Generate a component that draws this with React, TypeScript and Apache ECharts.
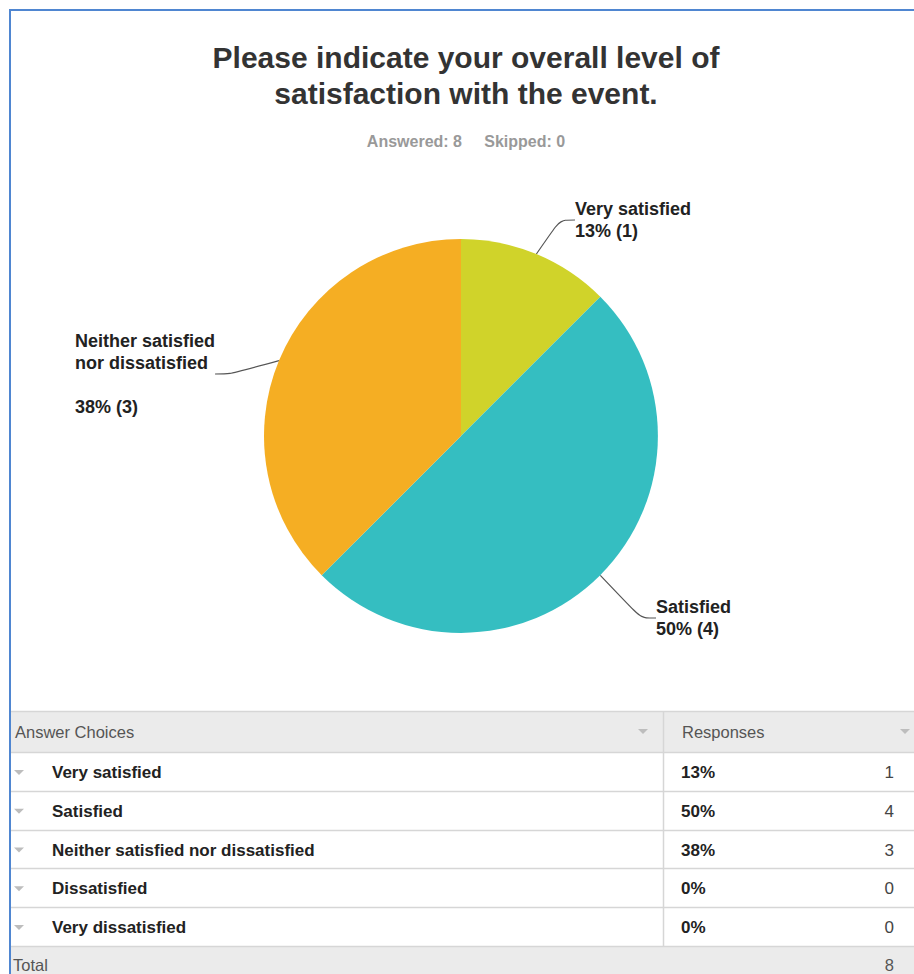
import React, { useEffect, useRef } from "react";
import * as echarts from "echarts";

// ---- data ----
const categories = [
  "Very satisfied",
  "Satisfied",
  "Neither satisfied nor dissatisfied",
  "Dissatisfied",
  "Very dissatisfied",
];
const responses = [1, 4, 3, 0, 0];
const skipped = 0;
const sliceColors = ["#D0D32A", "#35BEC1", "#F5AE23", "#9B9B9B", "#6D6D6D"];
const chartLabelNames = [
  "Very satisfied",
  "Satisfied",
  "Neither satisfied\nnor dissatisfied\n",
  "Dissatisfied",
  "Very dissatisfied",
];
const titleText = "Please indicate your overall level of\nsatisfaction with the event.";
const headerLabels = ["Answer Choices", "Responses"];

// ---- layout (not data) ----
const labelPos: Record<number, [number, number]> = {
  0: [575, 198],
  1: [656, 596],
  2: [75, 330],
};
const FONT = "'Liberation Sans', Arial, Helvetica, sans-serif";

export default function App() {
  const ref = useRef<HTMLDivElement>(null);

  useEffect(() => {
    if (!ref.current) return;
    const chart = echarts.init(ref.current, null, { renderer: "svg" });
    const total = responses.reduce((a, b) => a + b, 0);
    const pct = (v: number) => Math.round((v / total) * 100) + "%";

    // Table graphics
    const tableLeft = 11;
    const tableRight = 914;
    const headerTop = 711;
    const headerBottom = 752;
    const rowH = 38.8;
    const colX = 663.5;
    const lineColor = "#D6D6D6";
    const g: any[] = [];

    g.push({
      type: "rect",
      shape: { x: tableLeft, y: headerTop, width: tableRight - tableLeft, height: headerBottom - headerTop },
      style: { fill: "#EBEBEB" },
      silent: true,
    });
    const totalTop = headerBottom + rowH * categories.length;
    g.push({
      type: "rect",
      shape: { x: tableLeft, y: totalTop, width: tableRight - tableLeft, height: 974 - totalTop },
      style: { fill: "#EBEBEB" },
      silent: true,
    });
    const hLines = [headerTop, headerBottom];
    for (let i = 1; i <= categories.length; i++) hLines.push(headerBottom + rowH * i);
    hLines.forEach((y) =>
      g.push({
        type: "line",
        shape: { x1: tableLeft, y1: Math.round(y) + 0.5, x2: tableRight, y2: Math.round(y) + 0.5 },
        style: { stroke: lineColor, lineWidth: 1.5 },
        silent: true,
      })
    );
    g.push({
      type: "line",
      shape: { x1: colX, y1: headerTop, x2: colX, y2: totalTop },
      style: { stroke: lineColor, lineWidth: 1.5 },
      silent: true,
    });

    const tri = (cx: number, cy: number) => ({
      type: "polygon",
      shape: { points: [[cx - 5, cy - 2.5], [cx + 5, cy - 2.5], [cx, cy + 2.5]] },
      style: { fill: "#BDBDBD" },
      silent: true,
    });
    const headerY = (headerTop + headerBottom) / 2;
    g.push({
      type: "text",
      x: 15,
      y: headerY,
      style: { text: headerLabels[0], font: `16.5px ${FONT}`, fill: "#555", verticalAlign: "middle" },
      silent: true,
    });
    g.push({
      type: "text",
      x: 682,
      y: headerY,
      style: { text: headerLabels[1], font: `16.5px ${FONT}`, fill: "#555", verticalAlign: "middle" },
      silent: true,
    });
    g.push(tri(643, headerY));
    g.push(tri(905, headerY));

    categories.forEach((c, i) => {
      const cy = headerBottom + rowH * i + rowH / 2 + 1;
      g.push(tri(19, cy));
      g.push({
        type: "text",
        x: 52,
        y: cy,
        style: { text: c, font: `bold 17px ${FONT}`, fill: "#222", verticalAlign: "middle" },
        silent: true,
      });
      g.push({
        type: "text",
        x: 681,
        y: cy,
        style: { text: pct(responses[i]), font: `bold 17px ${FONT}`, fill: "#222", verticalAlign: "middle" },
        silent: true,
      });
      g.push({
        type: "text",
        x: 894,
        y: cy,
        style: {
          text: String(responses[i]),
          font: `17px ${FONT}`,
          fill: "#444",
          align: "right",
          verticalAlign: "middle",
        },
        silent: true,
      });
    });
    const totalY = (totalTop + 974) / 2 + 5;
    g.push({
      type: "text",
      x: 13,
      y: totalY,
      style: { text: "Total", font: `16.5px ${FONT}`, fill: "#555", verticalAlign: "middle" },
      silent: true,
    });
    g.push({
      type: "text",
      x: 894,
      y: totalY,
      style: { text: String(total), font: `16.5px ${FONT}`, fill: "#555", align: "right", verticalAlign: "middle" },
      silent: true,
    });

    // frame
    g.push({
      type: "rect",
      shape: { x: 10, y: 10, width: 1000, height: 1000 },
      style: { fill: "none", stroke: "#4F86D1", lineWidth: 2 },
      silent: true,
    });

    chart.setOption({
      animation: false,
      backgroundColor: "#ffffff",
      title: [
        {
          text: titleText,
          left: 461,
          top: 34,
          textAlign: "center",
          textStyle: { fontFamily: FONT, fontSize: 30, fontWeight: "bold", color: "#333", lineHeight: 36 },
        },
        {
          text: `Answered: ${total}     Skipped: ${skipped}`,
          left: 461,
          top: 127,
          textAlign: "center",
          textStyle: { fontFamily: FONT, fontSize: 16, fontWeight: "bold", color: "#999", lineHeight: 18 },
        },
      ],
      series: [
        {
          type: "pie",
          center: [461, 436],
          radius: 197,
          startAngle: 90,
          clockwise: true,
          avoidLabelOverlap: false,
          data: categories.map((c, i) => ({
            name: c,
            value: responses[i],
            itemStyle: { color: sliceColors[i] },
            label: { show: responses[i] > 0 },
            labelLine: { show: responses[i] > 0 },
          })),
          label: {
            show: true,
            position: "outside",
            formatter: (p: any) =>
              `${chartLabelNames[p.dataIndex]}\n${pct(p.value)} (${p.value})`,
            fontFamily: FONT,
            fontSize: 18,
            fontWeight: "bold",
            color: "#222",
            lineHeight: 22,
            align: "left",
          },
          labelLine: {
            show: true,
            length: 15,
            length2: 15,
            smooth: 0.3,
            lineStyle: { color: "#555", width: 1.2 },
          },
          labelLayout: (params: any) => {
            const p = labelPos[params.dataIndex];
            if (!p) return {};
            return { x: p[0], y: p[1], align: "left", verticalAlign: "top" };
          },
          emphasis: { disabled: true },
        },
      ],
      graphic: g,
    });

    return () => chart.dispose();
  }, []);

  return (
    <div
      ref={ref}
      style={{ position: "fixed", left: 0, top: 0, width: 914, height: 974, background: "#fff" }}
    />
  );
}
